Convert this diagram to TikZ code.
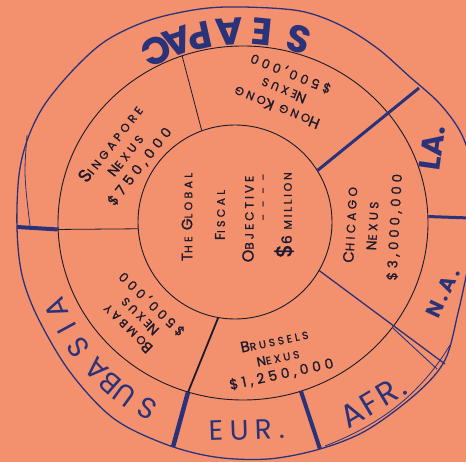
\documentclass[tikz,border=0pt]{standalone}
\usepackage{fontspec}
\setmainfont{Poppins}
\newfontfamily\hand[FakeBold=1.2]{Poppins}
\newfontfamily\handb{Poppins}
\usetikzlibrary{shapes.geometric}
\definecolor{paper}{RGB}{243,145,110}
\definecolor{ink}{RGB}{30,26,44}
\definecolor{blueink}{RGB}{42,50,122}
\newcommand\Ini[2]{{\fontsize{#1}{#1}\selectfont #2}}
\newcommand\hf[3]{\hand\addfontfeature{LetterSpace=#1}\fontsize{#2}{#3}\selectfont}
\begin{document}
\begin{tikzpicture}[x=1pt,y=-1pt,
  ring/.style={draw=ink, line width=0.9pt, inner sep=0pt},
  thinline/.style={draw=ink, line width=0.8pt},
  wedge/.style={draw=blueink, line width=4pt},
  txt/.style={text=ink, align=center, inner sep=0pt},
  region/.style={text=blueink, inner sep=0pt},
]
\fill[paper] (0,0) rectangle (466,462);
\useasboundingbox (0,0) rectangle (466,462);
\clip (0,0) rectangle (466,462);

% outer ring
\draw[blueink, line width=1.3pt] plot[smooth cycle, tension=0.55] coordinates {
 (243,7) (300,11) (340,25) (377,48) (410,77) (440,104) (462,135) (474,175)
 (477,220) (468,267) (458,313) (445,360) (417,393) (367,430) (320,449)
 (268,459) (215,457) (165,444) (113,418) (70,372) (38,318) (22,275)
 (17,228) (19,175) (28,138) (45,104) (75,68) (107,40) (150,20) (200,9)};
\draw[blueink, line width=0.8pt] (27,135) .. controls (24,175) .. (30,226);
\draw[blueink, line width=0.8pt] (325,446) .. controls (385,423) and (423,390) .. (450,345);

% middle and inner circles
\node[ellipse, ring, minimum width=370pt, minimum height=354pt] (mid) at (243,223) {};
\node[circle, ring, minimum size=194pt] (inn) at (235,222) {};

% outer ends of dividers
\coordinate (oSL) at (419,88);
\coordinate (oLN) at (470,218);
\coordinate (oNA) at (445,364);
\coordinate (oNB) at (437,369);
\coordinate (oAE) at (320,449);
\coordinate (oES) at (173,447);
\coordinate (oSS) at (17,227);

% dividers
\draw[thinline] (inn.110) -- (mid.110);
\draw[thinline] (inn.184) -- (mid.182);
\draw[wedge] (mid.182) -- (oSS);
\draw[draw=ink, line width=1.8pt] (inn.260) -- (mid.252);
\draw[wedge, line width=4.5pt] (mid.252) -- (oES);
\draw[draw=blueink, line width=1.3pt] (inn.330) -- (oNA);
\draw[draw=blueink, line width=0.9pt] (mid.325) -- (oNB);
\draw[wedge] (mid.289) -- (oAE);
\draw[draw=blueink, line width=3pt] (inn.32) -- (oSL);
\draw[draw=blueink, line width=3pt] (mid.2) -- (oLN);

% centre
\node[txt, rotate=90, font=\hf{30}{11}{14}] (t1) at (187,217) {\Ini{15}{T}HE \Ini{15}{G}LOBAL};
\node[txt, rotate=90, font=\hf{30}{11}{14}] (t2) at (220,215) {\Ini{14}{F}ISCAL};
\node[txt, rotate=90, font=\hf{25}{12}{14}] (t3) at (248,219) {\Ini{16}{O}BJECTIVE};
\node[txt, rotate=90, font=\hf{30}{12}{14}] (t4) at (265,197) {- - - -};
\node[txt, rotate=90, font=\hf{25}{11}{14}] (t5) at (284,215) {\Ini{22}{\$}\Ini{14}{6} MILLION};

% nexus blocks
\node[txt, rotate=52, font=\hf{32}{11.5}{18}] (sg) at (125,155)
  {\Ini{18}{S}INGAPORE\\\Ini{14}{N}EXUS\\{\fontsize{14}{18}\selectfont\$750,000}};
\node[txt, rotate=158, font=\hf{28}{11.5}{18}] (hk) at (284,90)
  {\Ini{15}{H}ONG \Ini{15}{K}ONG\\\Ini{14}{N}EXUS\\{\fontsize{13}{18}\selectfont\$500,000}};
\node[txt, rotate=136, font=\hf{28}{11.5}{17}] (bo) at (140,316)
  {\Ini{15}{B}OMBAY\\\Ini{14}{N}EXUS\\{\fontsize{13}{17}\selectfont\$500,000}};
\node[txt, rotate=87, font=\hf{28}{12}{22}] (ch) at (373,226)
  {\Ini{15}{C}HICAGO\\\Ini{14}{N}EXUS\\{\fontsize{13.5}{22}\selectfont\$3,000,000}};
\node[txt, rotate=12, font=\hf{28}{10.5}{17}] (br) at (278,358)
  {\Ini{15}{B}RUSSELS\\\Ini{13}{N}EXUS\\{\fontsize{14}{17}\selectfont\$1,250,000}};

% regions
\foreach \l/\a [count=\i] in {S/74,E/84.5,A/94,P/102.5,A/109,C/115.5}
  \node[region, rotate=\a+90, font=\handb\bfseries\fontsize{38}{38}\selectfont] (sea\i)
    at ({243+201*cos(\a)},{232-201*sin(\a)}) {\l};
\foreach \l/\a [count=\i] in {S/241.5,U/234,B/228.6,A/223.2,S/215.1,I/208.6,A/202.2}
  \node[region, rotate=\a-90, font=\handb\fontsize{29}{29}\selectfont] (sub\i)
    at ({243+201*cos(\a)},{232-201*sin(\a)}) {\l};
\node[region, rotate=2, font=\handb\addfontfeature{LetterSpace=23}\fontsize{28}{28}\selectfont] (eur) at (247,430) {EUR.};
\node[region, rotate=31, font=\handb\addfontfeature{LetterSpace=8}\fontsize{32}{32}\selectfont] (afr) at (373,402) {AFR.};
\node[region, rotate=82, font=\handb\bfseries\fontsize{30}{30}\selectfont] (la) at (432,148) {LA.};
\node[region, rotate=65, font=\handb\bfseries\addfontfeature{LetterSpace=15}\fontsize{21}{21}\selectfont] (na) at (443,293) {N.A.};
\end{tikzpicture}
\end{document}
